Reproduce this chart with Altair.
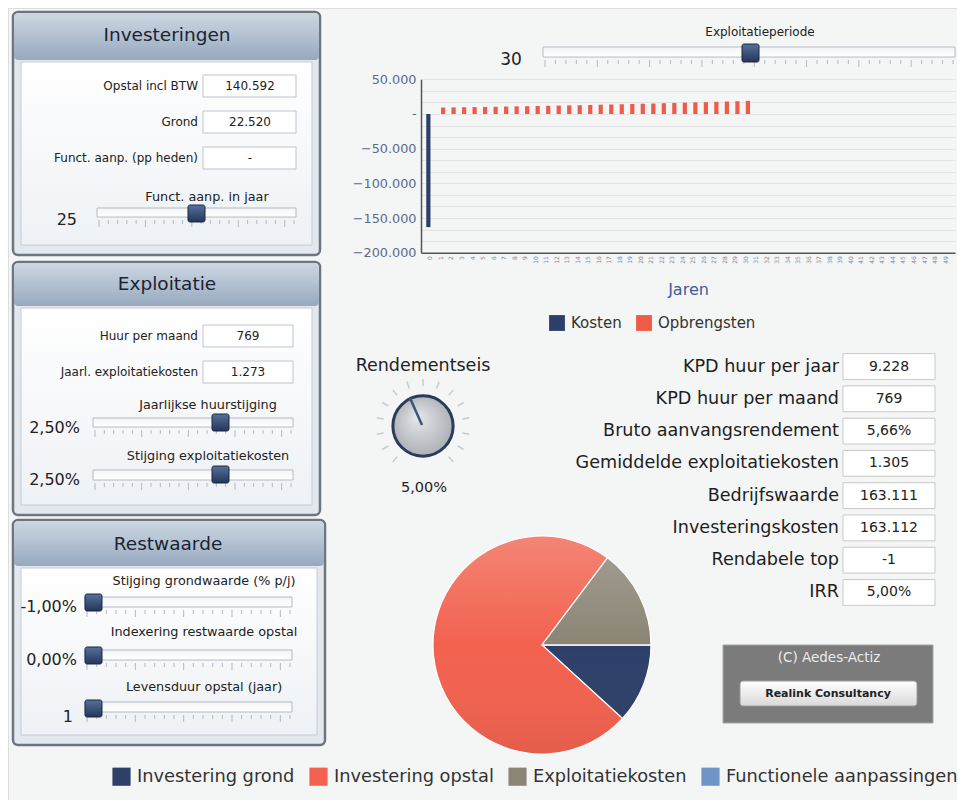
import math
import numpy as np
import pandas as pd
import altair as alt

# ---------------- data ----------------
jaren = list(range(0, 50))                      # categories on the x axis
reeksen = ["Kosten", "Opbrengsten"]
kosten_jaren = [0]
kosten = [-163112]
opbrengsten_jaren = list(range(1, 31))
opbrengsten = [9200, 9500, 9700, 9900, 10200, 10400, 10700, 11000, 11200, 11500,
               11800, 12100, 12400, 12700, 13000, 13400, 13700, 14000, 14400, 14800,
               15100, 15500, 15900, 16300, 16700, 17100, 17500, 18000, 18400, 18900]
y_tick_labels = [50000, 0, -50000, -100000, -150000, -200000]

pie_categorieen = ["Investering grond", "Investering opstal", "Exploitatiekosten",
                   "Functionele aanpassingen"]
pie_waarden = [22520, 140592, 28200, 0]

kpi_labels = ["KPD huur per jaar", "KPD huur per maand", "Bruto aanvangsrendement",
              "Gemiddelde exploitatiekosten", "Bedrijfswaarde", "Investeringskosten",
              "Rendabele top", "IRR"]
kpi_values = ["9.228", "769", "5,66%", "1.305", "163.111", "163.112", "-1", "5,00%"]

panel_titels = ["Investeringen", "Exploitatie", "Restwaarde"]
invoer_labels = ["Opstal incl BTW", "Grond", "Funct. aanp. (pp heden)",
                 "Huur per maand", "Jaarl. exploitatiekosten"]
invoer_values = ["140.592", "22.520", "-", "769", "1.273"]
slider_labels = ["Funct. aanp. in jaar", "Jaarlijkse huurstijging", "Stijging exploitatiekosten",
                 "Stijging grondwaarde (% p/j)", "Indexering restwaarde opstal",
                 "Levensduur opstal (jaar)", "Exploitatieperiode"]
slider_values = ["25", "2,50%", "2,50%", "-1,00%", "0,00%", "1", "30"]
rendementseis_label = "Rendementseis"
rendementseis_value = "5,00%"
copyright_text = "(C) Aedes-Actiz"
knop_text = "Realink Consultancy"

# ---------------- layout / style ----------------
W, H = 949, 792
OFF = 8
FONT = "DejaVu Sans"
NAVY = "#2c3f68"
RED = "#ef5a49"
pie_kleuren = ["#2c4069", "#f2624f", "#8b8576", "#6f95c6"]


def c(v):
    return v - OFF


def lin(c0, c1):
    return {"gradient": "linear", "x1": 0, "y1": 0, "x2": 0, "y2": 1,
            "stops": [{"offset": 0, "color": c0}, {"offset": 1, "color": c1}]}


def rect_layer(boxes, **mark):
    df = pd.DataFrame(boxes, columns=["x", "y", "x2", "y2"]).apply(lambda s: s - OFF)
    return alt.Chart(df).mark_rect(**mark).encode(
        x=alt.X("x:Q", scale=None, axis=None), x2="x2:Q",
        y=alt.Y("y:Q", scale=None, axis=None), y2="y2:Q")


def text_layer(items, **mark):
    df = pd.DataFrame(items, columns=["t", "x", "y"])
    df["x"] = df["x"] - OFF
    df["y"] = df["y"] - OFF
    mark.setdefault("font", FONT)
    mark.setdefault("baseline", "middle")
    return alt.Chart(df).mark_text(**mark).encode(
        x=alt.X("x:Q", scale=None, axis=None),
        y=alt.Y("y:Q", scale=None, axis=None), text="t:N")


def rule_layer(segs, **mark):
    df = pd.DataFrame(segs, columns=["x", "y", "x2", "y2"]).apply(lambda s: s - OFF)
    return alt.Chart(df).mark_rule(**mark).encode(
        x=alt.X("x:Q", scale=None, axis=None), x2="x2:Q",
        y=alt.Y("y:Q", scale=None, axis=None), y2="y2:Q")


layers = []

# --- left panels ---
frames = [(13, 12, 320, 255), (13, 262, 320, 515), (13, 520, 325, 745)]
headers = [(14, 13, 319, 60), (14, 263, 319, 306), (14, 521, 324, 566)]
inners = [(21, 62, 312, 245), (21, 308, 312, 505), (21, 568, 317, 735)]
layers.append(rect_layer(frames, fill="#e3e8ee", stroke="#6d7580", strokeWidth=2.5, cornerRadius=5))
layers.append(rect_layer(headers, fill=lin("#cdd7e2", "#97a9bf"), cornerRadius=4))
layers.append(rect_layer(inners, fill=lin("#ffffff", "#eef1f5"), stroke="#c5ccd5", strokeWidth=1))
layers.append(text_layer(list(zip(panel_titels, [167, 167, 168], [35, 284, 544])),
                         fontSize=18.5, color="#1a2333", align="center"))

# input boxes
inp_boxes = [(203, 75, 296, 97), (203, 111, 296, 133), (203, 147, 296, 169),
             (203, 325, 293, 347), (203, 361, 293, 383)]
inp_y = [86, 122, 158, 336, 372]
layers.append(rect_layer(inp_boxes, fill="#ffffff", stroke="#bfc4ca", strokeWidth=1))
layers.append(text_layer(list(zip(invoer_labels, [198] * 5, inp_y)),
                         fontSize=12, color="#222222", align="right"))
layers.append(text_layer(list(zip(invoer_values, [250, 250, 250, 248, 248], inp_y)),
                         fontSize=12, color="#222222", align="center"))

# sliders
tracks = [(97, 208, 296, 217), (93, 418, 293, 427), (93, 470, 293, 480),
          (85, 597, 292, 607), (85, 650, 292, 660), (85, 702, 292, 712), (543, 47, 955, 57)]
thumbs = [(188, 205, 205, 222), (212, 414, 229, 431), (212, 466, 229, 483),
          (85, 594, 102, 611), (85, 647, 102, 664), (85, 700, 102, 717), (742, 44, 759, 62)]
tick_segs = []
for (x1, y1, x2, y2) in tracks:
    n = 40 if x2 - x1 > 300 else 22
    for i, xx in enumerate(np.linspace(x1 + 2, x2 - 2, n)):
        ln = 7 if i % 5 == 0 else 4
        tick_segs.append((xx, y2 + 3, xx, y2 + 3 + ln))
layers.append(rule_layer(tick_segs, color="#b3b9c2", strokeWidth=1))
layers.append(rect_layer(tracks, fill=lin("#f4f5f7", "#ffffff"), stroke="#b4bac3", strokeWidth=1))
layers.append(rect_layer(thumbs, fill=lin("#56719b", "#223659"), stroke="#1a2841",
                         strokeWidth=1, cornerRadius=2))
sl_pos = [(207, 197), (208, 405), (208, 456), (204, 581), (204, 632), (204, 687)]
layers.append(text_layer([(t, x, y) for t, (x, y) in zip(slider_labels[:6], sl_pos)],
                         fontSize=12.8, color="#222222", align="center"))
layers.append(text_layer([(slider_labels[6], 760, 32)], fontSize=12, color="#222222", align="center"))
sv_pos = [(77, 220), (80, 428), (80, 480), (77, 607), (77, 660), (73, 717)]
layers.append(text_layer([(t, x, y) for t, (x, y) in zip(slider_values[:6], sv_pos)],
                         fontSize=16, color="#222222", align="right"))
layers.append(text_layer([(slider_values[6], 511, 60)], fontSize=17, color="#222222", align="center"))

# --- bar chart ---
bar_df = pd.DataFrame({
    "jaar": kosten_jaren + opbrengsten_jaren,
    "reeks": ["Kosten"] * len(kosten) + ["Opbrengsten"] * len(opbrengsten),
    "waarde": kosten + opbrengsten,
})
step = (y_tick_labels[0] - y_tick_labels[1]) / 3
grid_vals = [round(y_tick_labels[-1] + k * step, 3) for k in range(16)]
label_expr = ("abs(datum.value) < 1 ? '-' : (abs(datum.value % 50000) < 1 ? "
              "replace(format(datum.value, ','), regexp(',', 'g'), '.') : '')")
Y_TOP, Y_BOT, X_L, X_R = 79.3, 252.7, 421, 955
bars = alt.Chart(bar_df).mark_bar().encode(
    x=alt.X("jaar:O",
            scale=alt.Scale(domain=jaren, range=[c(X_L), c(X_R)], paddingInner=0.2, paddingOuter=0.5),
            axis=alt.Axis(orient="bottom", offset=c(Y_BOT) - H, labelAngle=270, labelFontSize=6,
                          labelColor="#7d8796", labelPadding=3, ticks=False, domainColor="#555555",
                          domainWidth=1.5, grid=False, title="Jaren", titleFontSize=16,
                          titleFontWeight="normal", titleColor="#3d5c9c", titlePadding=18,
                          titleFont=FONT, labelFont=FONT)),
    xOffset=alt.XOffset("reeks:N", scale=alt.Scale(domain=reeksen, paddingInner=0)),
    y=alt.Y("waarde:Q", stack=None,
            scale=alt.Scale(domain=[y_tick_labels[-1], y_tick_labels[0]], range=[c(Y_BOT), c(Y_TOP)],
                            nice=False, zero=False),
            axis=alt.Axis(orient="left", offset=-c(X_L), values=grid_vals, labelExpr=label_expr,
                          grid=True, gridColor="#e3e3e3", ticks=False, domainColor="#555555",
                          domainWidth=1.5, labelFontSize=12.8, labelColor="#5a6a8c", labelPadding=5,
                          labelFont=FONT, title=None)),
    y2=alt.datum(0),
    color=alt.Color("reeks:N", scale=alt.Scale(domain=reeksen, range=[NAVY, RED]),
                    legend=alt.Legend(orient="none", legendX=c(549), legendY=c(315),
                                      direction="horizontal", title=None, symbolType="square",
                                      symbolSize=250, symbolStrokeWidth=0, labelFontSize=15,
                                      labelColor="#333333", labelFont=FONT, columnPadding=14,
                                      labelOffset=6)),
)
layers.append(bars)

# --- gauge (Rendementseis) ---
GX, GY = 423, 426
gticks = []
for a in range(-140, 141, 20):
    r = math.radians(a)
    gticks.append((GX + 40 * math.sin(r), GY - 40 * math.cos(r),
                   GX + 47 * math.sin(r), GY - 47 * math.cos(r)))
layers.append(rule_layer(gticks, color="#c4ccd6", strokeWidth=1.5))
knob = alt.Chart(pd.DataFrame({"k": [1]})).mark_circle(
    size=math.pi * 34 ** 2, opacity=1, stroke="#2d3b5a", strokeWidth=3,
    fill={"gradient": "radial", "x1": 0.4, "y1": 0.35, "x2": 0.5, "y2": 0.5, "r1": 0, "r2": 0.6,
          "stops": [{"offset": 0, "color": "#e6e8ea"}, {"offset": 1, "color": "#a4a8ae"}]}
).encode(x=alt.value(c(GX)), y=alt.value(c(GY)))
layers.append(knob)
layers.append(rule_layer([(GX - 1, GY - 1, 410, 398)], color="#3f5574", strokeWidth=2.5))
layers.append(text_layer([(rendementseis_label, 423, 366)], fontSize=17.5, color="#222222", align="center"))
layers.append(text_layer([(rendementseis_value, 424, 488)], fontSize=14.5, color="#222222", align="center"))

# --- KPI table ---
kpi_df = pd.DataFrame({"label": kpi_labels, "waarde": kpi_values})
kpi_y = alt.Y("label:N", sort=kpi_labels,
              scale=alt.Scale(domain=kpi_labels, range=[c(352), c(607)], paddingInner=0.2,
                              paddingOuter=0.05), axis=None)
kpi_base = alt.Chart(kpi_df)
kpi = alt.layer(
    kpi_base.mark_rect(fill="#ffffff", stroke="#c9c9c9", strokeWidth=1).encode(
        x=alt.value(c(843)), x2=alt.value(c(935)), y=kpi_y),
    kpi_base.mark_text(align="right", baseline="middle", fontSize=17.6, color="#1e1e1e", font=FONT).encode(
        x=alt.value(c(839)), y=kpi_y, text="label:N"),
    kpi_base.mark_text(align="center", baseline="middle", fontSize=14, color="#222222", font=FONT).encode(
        x=alt.value(c(889)), y=kpi_y, text="waarde:N"),
)
layers.append(kpi)

# --- copyright box ---
layers.append(rect_layer([(723, 645, 933, 723)], fill="#7b7b7b", stroke="#a5a5a5", strokeWidth=1))
layers.append(rect_layer([(740, 681, 917, 706)], fill=lin("#ffffff", "#d9d9d9"), stroke="#9a9a9a",
                         strokeWidth=1, cornerRadius=3))
layers.append(text_layer([(copyright_text, 829, 658)], fontSize=13.5, color="#ececec", align="center"))
layers.append(text_layer([(knop_text, 828, 694)], fontSize=11, fontWeight="bold", color="#222222",
                         align="center"))

# --- pie ---
PX, PY, PR = 542, 645, 109
pie_df = pd.DataFrame({"categorie": pie_categorieen, "waarde": pie_waarden,
                       "volgorde": list(range(len(pie_categorieen)))})
pie = alt.Chart(pie_df).mark_arc(radius=PR, stroke="#ffffff", strokeWidth=1.2).encode(
    x=alt.value(c(PX)), y=alt.value(c(PY)),
    theta=alt.Theta("waarde:Q", stack=True,
                    scale=alt.Scale(range=[math.pi / 2, math.pi / 2 + 2 * math.pi])),
    order=alt.Order("volgorde:Q"),
    color=alt.Color("categorie:N", scale=alt.Scale(domain=pie_categorieen, range=pie_kleuren),
                    legend=alt.Legend(orient="none", legendX=c(112), legendY=c(767),
                                      direction="horizontal", title=None, symbolType="square",
                                      symbolSize=330, symbolStrokeWidth=0, labelFontSize=17.8,
                                      labelColor="#333333", labelFont=FONT, columnPadding=14,
                                      labelOffset=6, labelLimit=400)),
)
layers.append(pie)
shade = alt.Chart(pd.DataFrame({"k": [1]})).mark_arc(
    radius=PR, theta=0, theta2=2 * math.pi,
    fill={"gradient": "linear", "x1": 0, "y1": 0, "x2": 0, "y2": 1,
          "stops": [{"offset": 0, "color": "rgba(255,255,255,0.22)"},
                    {"offset": 0.5, "color": "rgba(255,255,255,0.0)"},
                    {"offset": 1, "color": "rgba(0,0,0,0.06)"}]}
).encode(x=alt.value(c(PX)), y=alt.value(c(PY)))
layers.append(shade)

chart = alt.layer(*layers).resolve_scale(
    x="independent", y="independent", color="independent"
).resolve_legend(color="independent").properties(
    width=W, height=H, padding=0, autosize=alt.AutoSizeParams(type="none"),
    background="#f4f5f5",
).configure_view(stroke=None).configure(font=FONT)

chart.save("out.html", embed_options={"renderer": "svg", "actions": False})
